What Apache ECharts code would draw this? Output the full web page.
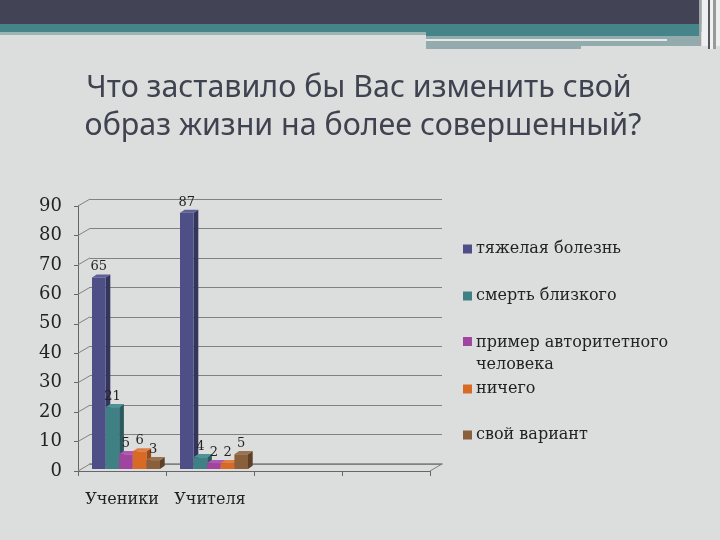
<!DOCTYPE html>
<html><head><meta charset="utf-8">
<style>html,body{margin:0;padding:0;background:#dcdddd}#c{width:720px;height:540px}</style>
<script src="https://cdn.jsdelivr.net/npm/echarts@6/dist/echarts.min.js"></script>
</head><body><div id="c"></div>
<script>
const categories = ['Ученики', 'Учителя', '', ''];
const seriesNames = ['тяжелая болезнь', 'смерть близкого', 'пример авторитетного\nчеловека', 'ничего', 'свой вариант'];
const heavyIllness = [65, 87];
const relativeDeath = [21, 4];
const rolePerson = [5, 2];
const nothing = [6, 2];
const ownOption = [3, 5];
const seriesValues = [heavyIllness, relativeDeath, rolePerson, nothing, ownOption];
const colors = ['#4e4f86', '#3f8084', '#a044a0', '#d86a26', '#8a5f3c'];
const sideColors = ['#34355c', '#2a5a5d', '#6e2e6e', '#9a4a18', '#5e3f27'];
const topColors = ['#5f6098', '#4d9296', '#b058b0', '#e07e40', '#9c7350'];
const tickValues = [0, 10, 20, 30, 40, 50, 60, 70, 80, 90];
const titleLines = 'Что заставило бы Вас изменить свой \nобраз жизни на более совершенный?';

const DX = 12, DY = -7, BAR = 13.6, DEPTH = 4.7, TOPH = 3.2, LIFT = 2, SHIFT = 4;
const serif = '"DejaVu Serif"';

function barItem(si) {
  return function (params, api) {
    const cat = api.value(0), val = api.value(1);
    const p = api.coord([cat, val]), b = api.coord([cat, 0]);
    const x0 = p[0] + SHIFT - 2.5 * BAR + si * BAR, x1 = x0 + BAR;
    const yt = p[1] - LIFT, yb = b[1] - LIFT;
    return { type: 'group', children: [
      { type: 'polygon', shape: { points: [[x1, yt], [x1 + DEPTH, yt - TOPH], [x1 + DEPTH, yb - TOPH], [x1, yb]] }, style: { fill: sideColors[si] } },
      { type: 'polygon', shape: { points: [[x0, yt], [x0 + DEPTH, yt - TOPH], [x1 + DEPTH, yt - TOPH], [x1, yt]] }, style: { fill: topColors[si] } },
      { type: 'rect', shape: { x: x0, y: yt, width: BAR, height: yb - yt }, style: { fill: colors[si] } },
      { type: 'text', style: { x: x0 + BAR / 2, y: yt - 4, text: String(val), textAlign: 'center', textVerticalAlign: 'bottom', fontFamily: serif, fontSize: 13, fill: '#222' } }
    ] };
  };
}
function wallItem(params, api) {
  const v = api.value(0);
  const a = api.coord([0, v]);
  const band = api.size([1, 0])[0];
  const left = a[0] - band / 2;
  const stroke = { stroke: '#808282', lineWidth: 1 };
  const children = [{ type: 'line', shape: { x1: left, y1: a[1], x2: left + DX, y2: a[1] + DY }, style: stroke }];
  if (v === 0) {
    const right = left + band * categories.length;
    children.push({ type: 'line', shape: { x1: right, y1: a[1], x2: right + DX, y2: a[1] + DY }, style: stroke });
  }
  return { type: 'group', children };
}

const legendTops = [233, 280, 327, 373, 419];
const legends = seriesNames.map((n, i) => ({
  left: 458, top: legendTops[i], orient: 'vertical', data: [n],
  itemWidth: 9, itemHeight: i === 2 ? 34 : 9, itemGap: 0,
  icon: i === 2 ? 'path://M0 0H10V10H0Z M0 38H0.01V38Z' : 'rect',
  textStyle: { fontFamily: serif, fontSize: 16, color: '#222', lineHeight: 22, padding: [0, 0, 0, -1] }
}));

const option = {
  animation: false,
  backgroundColor: '#dcdddd',
  color: colors,
  title: { text: titleLines, left: 358, top: 64, textAlign: 'center',
    textStyle: { fontFamily: 'Noto Sans', fontSize: 30.4, fontWeight: 'normal', color: '#3f4350', lineHeight: 38 } },
  legend: legends,
  grid: [
    { left: 78, width: 352, top: 206, height: 265 },
    { left: 90, width: 352, top: 199, height: 265 }
  ],
  xAxis: [
    { type: 'category', data: categories, gridIndex: 0,
      axisLine: { lineStyle: { color: '#666', width: 1 } },
      axisTick: { show: true, interval: 0, length: 5, lineStyle: { color: '#666' } },
      axisLabel: { interval: 0, fontFamily: serif, fontSize: 16, color: '#222', margin: 21 } },
    { type: 'category', data: categories, gridIndex: 1, axisLine: { lineStyle: { color: '#808282', width: 1.5 } }, axisTick: { show: false }, axisLabel: { show: false } }
  ],
  yAxis: [
    { type: 'value', gridIndex: 0, min: 0, max: 90, interval: 10,
      axisLine: { show: true, lineStyle: { color: '#666', width: 1 } },
      axisTick: { show: true, length: 4, lineStyle: { color: '#666' } },
      splitLine: { show: false },
      axisLabel: { fontFamily: serif, fontSize: 18, color: '#222', margin: 16 } },
    { type: 'value', gridIndex: 1, min: 0, max: 90, interval: 10, axisLine: { show: false }, axisTick: { show: false }, axisLabel: { show: false },
      splitLine: { show: true, lineStyle: { color: '#808282', width: 1 } } }
  ],
  series: [
    { type: 'custom', name: 'wall', xAxisIndex: 0, yAxisIndex: 0, silent: true, z: 1, renderItem: wallItem, encode: { y: 0 }, data: tickValues.map(v => [v]) }
  ].concat(seriesNames.map((n, si) => ({
    type: 'custom', name: n, xAxisIndex: 0, yAxisIndex: 0, z: 5 + si, renderItem: barItem(si),
    encode: { x: 0, y: 1 }, itemStyle: { color: colors[si] },
    data: seriesValues[si].map((v, i) => [i, v])
  }))),
  graphic: [
    { type: 'rect', z: 100, shape: { x: 0, y: 0, width: 720, height: 24 }, style: { fill: '#424456' } },
    { type: 'rect', z: 100, shape: { x: 0, y: 24, width: 720, height: 8 }, style: { fill: '#45858a' } },
    { type: 'rect', z: 100, shape: { x: 0, y: 32, width: 426, height: 3 }, style: { fill: '#9db4b5' } },
    { type: 'rect', z: 100, shape: { x: 426, y: 32, width: 274, height: 4 }, style: { fill: '#45858a' } },
    { type: 'rect', z: 100, shape: { x: 426, y: 36, width: 274, height: 10 }, style: { fill: '#93abad' } },
    { type: 'rect', z: 100, shape: { x: 426, y: 46, width: 155, height: 3 }, style: { fill: '#93abad' } },
    { type: 'rect', z: 100, shape: { x: 426, y: 39, width: 241, height: 2 }, style: { fill: '#e4eaea' } },
    { type: 'rect', z: 101, shape: { x: 699, y: 0, width: 2.5, height: 46 }, style: { fill: '#a0a4a8' } },
    { type: 'rect', z: 101, shape: { x: 701.5, y: 0, width: 6.5, height: 46 }, style: { fill: '#eef0f0' } },
    { type: 'rect', z: 101, shape: { x: 708, y: 0, width: 2, height: 49 }, style: { fill: '#55575f' } },
    { type: 'rect', z: 101, shape: { x: 710, y: 0, width: 3, height: 49 }, style: { fill: '#f0f2f2' } },
    { type: 'rect', z: 101, shape: { x: 713, y: 0, width: 3, height: 49 }, style: { fill: '#999' } },
    { type: 'rect', z: 101, shape: { x: 716, y: 0, width: 4, height: 46 }, style: { fill: '#eef0f0' } }
  ]
};
const chart = echarts.init(document.getElementById('c'), null, { renderer: 'canvas' });
chart.setOption(option);
</script></body></html>
